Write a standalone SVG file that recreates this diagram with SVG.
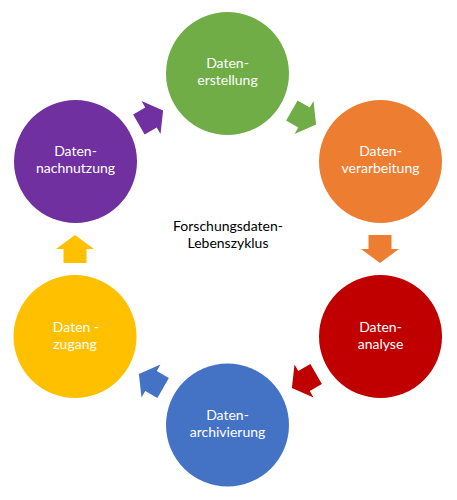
<svg xmlns="http://www.w3.org/2000/svg" width="457" height="500" viewBox="0 0 457 500">
  <style>
    .lbl { font-family: Lato, "Liberation Sans", sans-serif; font-size: 14px; fill: #ffffff; text-anchor: middle; }
    .center { font-family: Lato, "Liberation Sans", sans-serif; font-size: 14px; fill: #000000; text-anchor: middle; }
  </style>
  <defs>
    <path id="arr" d="M-14,-11.5 L0,-11.5 L0,-19 L14,0 L0,19 L0,11.5 L-14,11.5 Z"/>
  </defs>
  <rect width="457" height="500" fill="#ffffff"/>

  <g id="connectors">
    <use href="#arr" fill="#70AD47" transform="translate(304,117.5) rotate(30)"/>
    <use href="#arr" fill="#ED7D31" transform="translate(380,249) rotate(90)"/>
    <use href="#arr" fill="#C00000" transform="translate(304,381) rotate(150)"/>
    <use href="#arr" fill="#4472C4" transform="translate(151,381) rotate(210)"/>
    <use href="#arr" fill="#FFC000" transform="translate(75,249) rotate(270)"/>
    <use href="#arr" fill="#7030A0" transform="translate(151,117.5) rotate(330)"/>
  </g>

  <g id="node-erstellung">
    <circle cx="227.5" cy="73.5" r="61.5" fill="#70AD47"/>
    <text class="lbl" x="227.5" y="68">Daten-</text>
    <text class="lbl" x="227.5" y="85">erstellung</text>
  </g>
  <g id="node-verarbeitung">
    <circle cx="380.5" cy="161.5" r="61.5" fill="#ED7D31"/>
    <text class="lbl" x="380.5" y="156">Daten-</text>
    <text class="lbl" x="380.5" y="173">verarbeitung</text>
  </g>
  <g id="node-analyse">
    <circle cx="380.5" cy="336.5" r="61.5" fill="#C00000"/>
    <text class="lbl" x="380.5" y="332">Daten-</text>
    <text class="lbl" x="380.5" y="349">analyse</text>
  </g>
  <g id="node-archivierung">
    <circle cx="227.5" cy="425" r="61.5" fill="#4472C4"/>
    <text class="lbl" x="227.5" y="420">Daten-</text>
    <text class="lbl" x="227.5" y="437">archivierung</text>
  </g>
  <g id="node-zugang">
    <circle cx="75" cy="336.5" r="61.5" fill="#FFC000"/>
    <text class="lbl" x="76" y="332">Daten -</text>
    <text class="lbl" x="75" y="349">zugang</text>
  </g>
  <g id="node-nachnutzung">
    <circle cx="75.5" cy="161.5" r="61.5" fill="#7030A0"/>
    <text class="lbl" x="75.5" y="156">Daten-</text>
    <text class="lbl" x="75.5" y="173">nachnutzung</text>
  </g>
  <g id="center-title">
    <text class="center" x="228" y="231">Forschungsdaten-</text>
    <text class="center" x="228" y="248">Lebenszyklus</text>
  </g>
</svg>
